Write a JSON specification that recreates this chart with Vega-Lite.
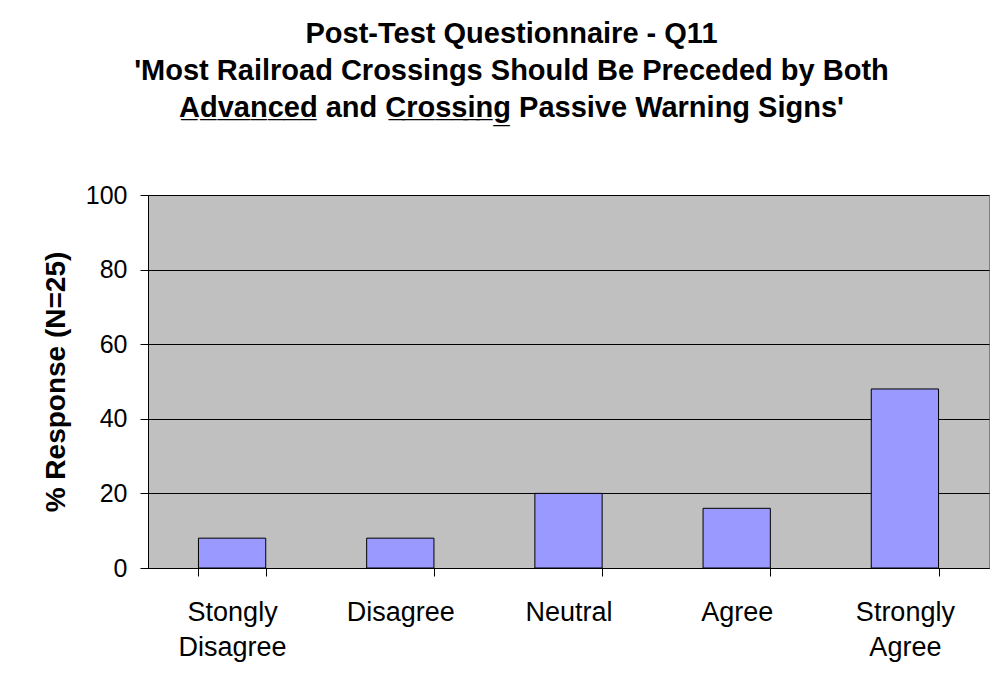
{
  "$schema": "https://vega.github.io/schema/vega-lite/v6.json",
  "width": 841,
  "height": 373,
  "autosize": {"type": "none"},
  "padding": {"left": 148, "top": 195, "right": 8, "bottom": 121},
  "background": "white",
  "title": {
    "text": ["Post-Test Questionnaire - Q11", "'Most Railroad Crossings Should Be Preceded by Both", "A\u0332d\u0332v\u0332a\u0332n\u0332c\u0332e\u0332d\u0332 and C\u0332r\u0332o\u0332s\u0332s\u0332i\u0332n\u0332g\u0332 Passive Warning Signs'"],
    "font": "Liberation Sans",
    "fontSize": 29,
    "fontWeight": "bold",
    "color": "black",
    "lineHeight": 37,
    "anchor": "middle",
    "frame": "group",
    "dx": -57,
    "offset": 60
  },
  "data": {
    "values": [
      {"response": "Stongly Disagree", "pct": 8},
      {"response": "Disagree", "pct": 8},
      {"response": "Neutral", "pct": 20},
      {"response": "Agree", "pct": 16},
      {"response": "Strongly Agree", "pct": 48}
    ]
  },
  "mark": {"type": "bar", "fill": "#9999ff", "stroke": "black", "strokeWidth": 1},
  "encoding": {
    "x": {
      "field": "response",
      "type": "nominal",
      "sort": null,
      "scale": {"paddingInner": 0.6, "paddingOuter": 0.3},
      "axis": {
        "title": null,
        "labelAngle": 0,
        "labelExpr": "split(datum.label, ' ')",
        "labelFont": "Liberation Sans",
        "labelFontSize": 27,
        "labelColor": "black",
        "labelLineHeight": 35,
        "labelPadding": 23,
        "labelBaseline": "top",
        "tickBand": "extent",
        "tickSize": 8,
        "tickColor": "black",
        "domainColor": "black",
        "grid": false
      }
    },
    "y": {
      "field": "pct",
      "type": "quantitative",
      "scale": {"domain": [0, 100]},
      "axis": {
        "title": "% Response (N=25)",
        "titleFont": "Liberation Sans",
        "titleFontSize": 28,
        "titleFontWeight": "bold",
        "titleColor": "black",
        "titlePadding": 15,
        "values": [0, 20, 40, 60, 80, 100],
        "labelFont": "Liberation Sans",
        "labelFontSize": 25,
        "labelColor": "black",
        "labelPadding": 13,
        "tickSize": 8,
        "tickColor": "black",
        "domainColor": "black",
        "gridColor": "black",
        "gridOpacity": 1
      }
    }
  },
  "config": {
    "view": {"fill": "#c0c0c0", "stroke": "#808080", "strokeWidth": 1}
  }
}
